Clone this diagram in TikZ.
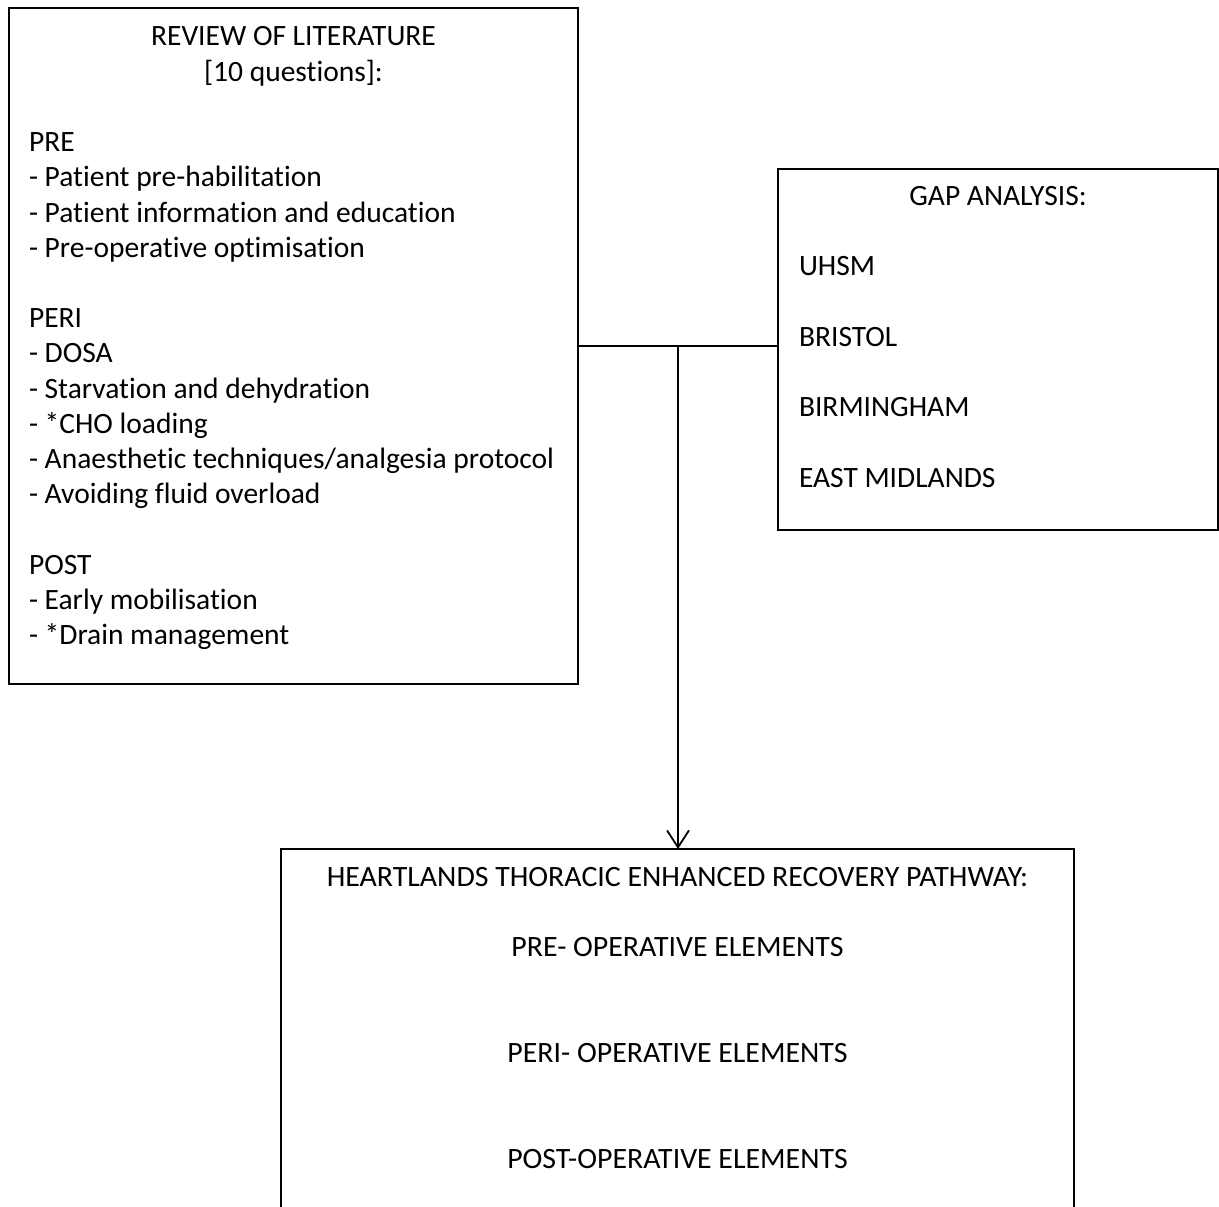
\documentclass[tikz,border=0pt]{standalone}
\usepackage{fontspec}
\setmainfont[Ligatures={NoCommon}]{Carlito}
\usetikzlibrary{arrows.meta}
\begin{document}
\begin{tikzpicture}[x=1pt,y=-1pt,
  box/.style={draw=black,line width=1.8pt,rectangle,inner sep=0pt,outer sep=0pt},
  txt/.style={inner sep=0pt,outer sep=0pt,font=\fontsize{29.5}{35.2}\selectfont},
  lt/.style={txt,anchor=base west},
  ct/.style={txt,anchor=base},
  conn/.style={line width=1.8pt}]
\useasboundingbox (0,0) rectangle (1219,1207);
% boxes
\node[box,minimum width=569pt,minimum height=676pt] (lit) at (293.5,346) {};
\node[box,minimum width=440pt,minimum height=361pt] (gap) at (998,349.5) {};
\node[box,minimum width=793pt,minimum height=451pt] (path) at (677.5,1074.5) {};
% literature text
\node[ct] (l1) at (293.5,46) {REVIEW OF LITERATURE};
\node[ct] (l2) at (293.5,81.2) {[10 questions]:};
\node[lt] (l3) at (29,151.6) {PRE};
\node[lt] (l4) at (29,186.8) {- Patient pre-habilitation};
\node[lt] (l5) at (29,222) {- Patient information and education};
\node[lt] (l6) at (29,257.2) {- Pre-operative optimisation};
\node[lt] (l7) at (29,327.6) {PERI};
\node[lt] (l8) at (29,362.8) {- DOSA};
\node[lt] (l9) at (29,398) {- Starvation and dehydration};
\node[lt] (l10) at (29,433.2) {- *CHO loading};
\node[lt] (l11) at (29,468.4) {- Anaesthetic techniques/analgesia protocol};
\node[lt] (l12) at (29,503.6) {- Avoiding fluid overload};
\node[lt] (l13) at (29,574) {POST};
\node[lt] (l14) at (29,609.2) {- Early mobilisation};
\node[lt] (l15) at (29,644.4) {- *Drain management};
% gap text
\node[ct] (g1) at (998,205) {GAP ANALYSIS:};
\node[lt] (g2) at (799,275.5) {UHSM};
\node[lt] (g3) at (799,346) {BRISTOL};
\node[lt] (g4) at (799,416.5) {BIRMINGHAM};
\node[lt] (g5) at (799,487) {EAST MIDLANDS};
% pathway text
\node[ct] (p1) at (677.5,886) {\scalebox{1.012}[1]{HEARTLANDS THORACIC ENHANCED RECOVERY PATHWAY:}};
\node[ct] (p2) at (677.5,956) {\scalebox{1.012}[1]{PRE- OPERATIVE ELEMENTS}};
\node[ct] (p3) at (677.5,1062) {\scalebox{1.012}[1]{PERI- OPERATIVE ELEMENTS}};
\node[ct] (p4) at (677.5,1168) {\scalebox{1.012}[1]{POST-OPERATIVE ELEMENTS}};
% connectors
\coordinate (j) at (678,346);
\draw[conn] (lit.east) -- (lit.east -| gap.west);
\draw[conn,-{Straight Barb[length=17pt,width=22pt,line width=1.8pt]}] (j) -- (j |- path.north);
\end{tikzpicture}
\end{document}
